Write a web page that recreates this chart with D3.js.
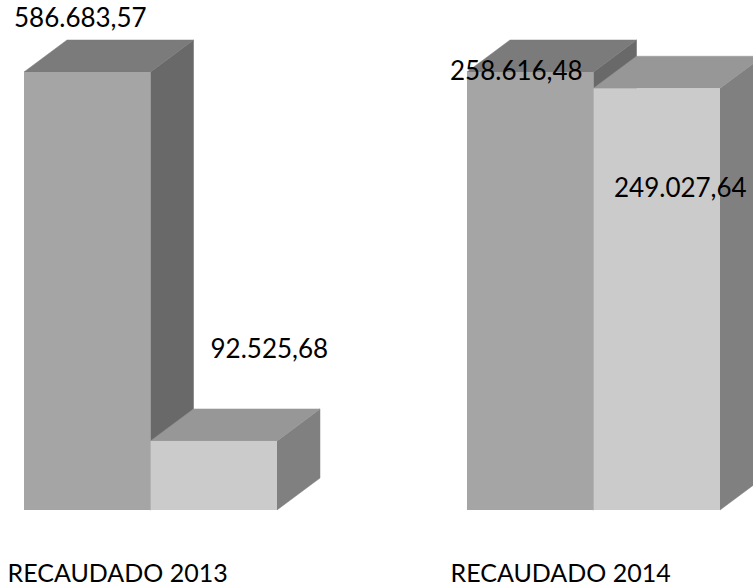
<!DOCTYPE html>
<html><head><meta charset="utf-8">
<script src="https://cdn.jsdelivr.net/npm/d3@7/dist/d3.min.js"></script>
<style>html,body{margin:0;padding:0;background:#fff;overflow:hidden}svg{display:block}
text{font-family:Lato,"Open Sans",sans-serif;font-size:26px;fill:#000}
text.cat{font-size:25px}</style>
</head><body><svg id="c" width="753" height="587"></svg>
<script>
const categories = ["RECAUDADO 2013", "RECAUDADO 2014"];
const serieA = [586683.57, 258616.48];
const serieB = [92525.68, 249027.64];
const labelsA = ["586.683,57", "258.616,48"];
const labelsB = ["92.525,68", "249.027,64"];

const baseY = 510, topY = 72, dx = 43, dy = -32;
const groupX = d3.scalePoint().domain(categories).range([24, 467]);
const inner = d3.scaleBand().domain(["A", "B"]).range([0, 253]);
const palette = {
  A: {front: "#a5a5a5", top: "#7b7b7b", side: "#696969"},
  B: {front: "#cbcbcb", top: "#979797", side: "#808080"}
};
const labelOffset = [
  {A: [-10, -45], B: [60, -83]},
  {A: [-17, 8], B: [20.5, 109]}
];
const svg = d3.select("#c");
const bars = [];
categories.forEach((c, i) => {
  const y = d3.scaleLinear().domain([0, Math.max(serieA[i], serieB[i])]).range([baseY, topY]);
  [["A", serieA[i], labelsA[i]], ["B", serieB[i], labelsB[i]]].forEach(([s, v, lab]) => {
    bars.push({c, i, s, v, lab, x0: groupX(c) + inner(s), x1: groupX(c) + inner(s) + inner.bandwidth(), y0: y(v), y1: y(0)});
  });
});
const poly = pts => pts.map(p => p.join(",")).join(" ");
const g = svg.selectAll("g.bar").data(bars).join("g").attr("class", "bar");
g.append("polygon").attr("fill", d => palette[d.s].side).attr("stroke", d => palette[d.s].side).attr("stroke-width", .5)
  .attr("points", d => poly([[d.x1, d.y0], [d.x1 + dx, d.y0 + dy], [d.x1 + dx, d.y1 + dy], [d.x1, d.y1]]));
g.append("polygon").attr("fill", d => palette[d.s].top).attr("stroke", d => palette[d.s].top).attr("stroke-width", .5)
  .attr("points", d => poly([[d.x0, d.y0], [d.x0 + dx, d.y0 + dy], [d.x1 + dx, d.y0 + dy], [d.x1, d.y0]]));
g.append("rect").attr("fill", d => palette[d.s].front)
  .attr("x", d => d.x0).attr("y", d => d.y0).attr("width", d => d.x1 - d.x0).attr("height", d => d.y1 - d.y0);
svg.selectAll("text.val").data(bars).join("text").attr("class", "val")
  .attr("x", d => d.x0 + labelOffset[d.i][d.s][0])
  .attr("y", d => d.y0 + labelOffset[d.i][d.s][1])
  .text(d => d.lab);
svg.selectAll("text.cat").data(categories).join("text").attr("class", "cat")
  .attr("x", c => groupX(c) - 16.5).attr("y", 582).text(c => c);
</script></body></html>
